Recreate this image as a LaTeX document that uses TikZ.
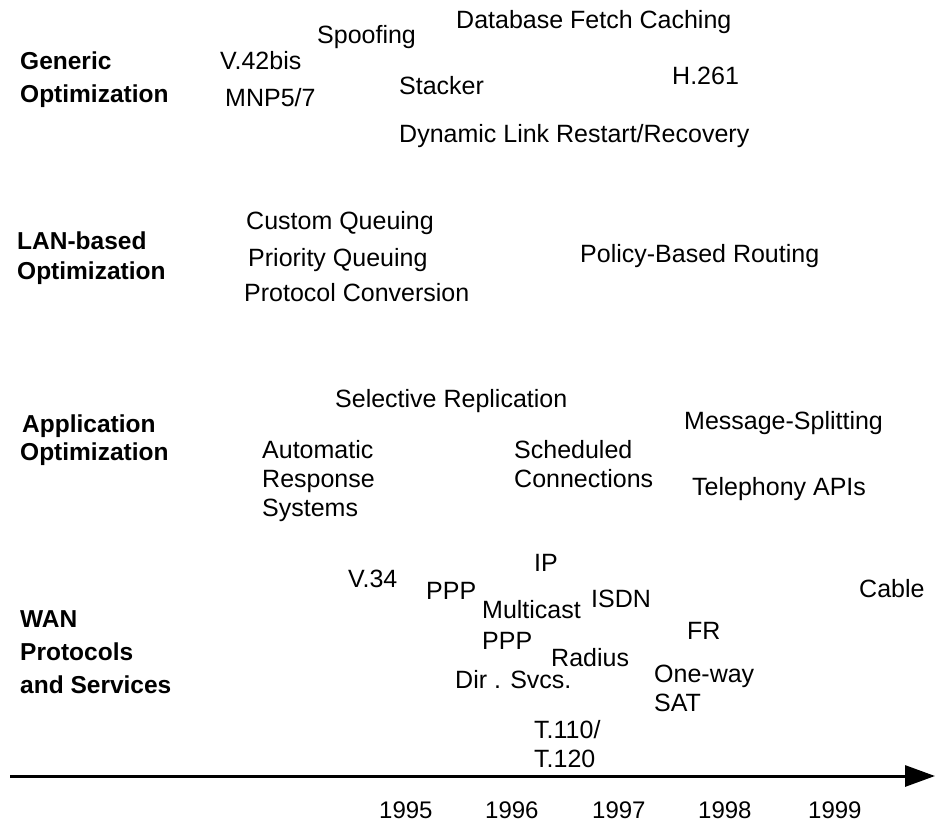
\documentclass[tikz,border=0pt]{standalone}
\usepackage{fontspec}
\setmainfont{Liberation Sans}
\usetikzlibrary{arrows.meta}

\tikzset{
  lbl/.style={anchor=base west, inner sep=0pt, font=\fontsize{25}{29}\selectfont},
  cat/.style={lbl, font=\fontsize{24.5}{29}\selectfont\bfseries},
  year/.style={anchor=base west, inner sep=0pt, font=\fontsize{24}{29}\selectfont},
  axis/.style={line width=3pt, -{Triangle[length=30pt,width=21pt]}}
}

\begin{document}
\begin{tikzpicture}[x=1pt,y=-1pt]
\useasboundingbox (0,0) rectangle (935,825);

% category labels
\node[cat] (gen1) at (20,69) {Generic};
\node[cat] (gen2) at (20,102) {Optimization};
\node[cat] (lan1) at (17,249) {LAN-based};
\node[cat] (lan2) at (17,279) {Optimization};
\node[cat] (app1) at (22,432) {Application};
\node[cat] (app2) at (20,460) {Optimization};
\node[cat] (wan1) at (20,627) {WAN};
\node[cat] (wan2) at (20,660) {Protocols};
\node[cat] (wan3) at (20,693) {and Services};

% generic optimization
\node[lbl] (spoof) at (317,43) {Spoofing};
\node[lbl] (dbfc) at (456,28) {Database Fetch Caching};
\node[lbl] (v42) at (220,69) {V.42bis};
\node[lbl] (mnp) at (225,106) {MNP5/7};
\node[lbl] (stack) at (399,94) {Stacker};
\node[lbl] (h261) at (672,84) {H.261};
\node[lbl] (dlrr) at (399,142) {Dynamic Link Restart/Recovery};

% LAN-based optimization
\node[lbl] (cq) at (246,229) {Custom Queuing};
\node[lbl] (pq) at (248,266) {Priority Queuing};
\node[lbl] (pc) at (244,301) {Protocol Conversion};
\node[lbl] (pbr) at (580,262) {Policy-Based Routing};

% application optimization
\node[lbl] (sr) at (335,407) {Selective Replication};
\node[lbl] (ms) at (684,429) {Message-Splitting};
\node[lbl] (ars1) at (262,458) {Automatic};
\node[lbl] (ars2) at (262,487) {Response};
\node[lbl] (ars3) at (262,516) {Systems};
\node[lbl] (sc1) at (514,458) {Scheduled};
\node[lbl] (sc2) at (514,487) {Connections};
\node[lbl] (tapi) at (692,495) {Telephony APIs};

% WAN protocols and services
\node[lbl] (ip) at (534,571) {IP};
\node[lbl] (v34) at (348,587) {V.34};
\node[lbl] (ppp1) at (426,599) {PPP};
\node[lbl] (cable) at (859,597) {Cable};
\node[lbl] (isdn) at (591,607) {ISDN};
\node[lbl] (mc) at (482,618) {Multicast};
\node[lbl] (fr) at (687,639) {FR};
\node[lbl] (ppp2) at (482,649) {PPP};
\node[lbl] (rad) at (551,666) {Radius};
\node[lbl] (ow1) at (654,682) {One-way};
\node[lbl] (ow2) at (654,711) {SAT};
\node[lbl] (dir) at (455,688) {Dir . Svcs.};
\node[lbl] (t1) at (534,738) {T.110/};
\node[lbl] (t2) at (534,767) {T.120};

% time axis
\coordinate (tstart) at (10,776);
\coordinate (tend) at (935,776);
\draw[axis] (tstart) -- (tend);

\node[year] (y95) at (379,818) {1995};
\node[year] (y96) at (485,818) {1996};
\node[year] (y97) at (592,818) {1997};
\node[year] (y98) at (698,818) {1998};
\node[year] (y99) at (808,818) {1999};
\end{tikzpicture}
\end{document}
